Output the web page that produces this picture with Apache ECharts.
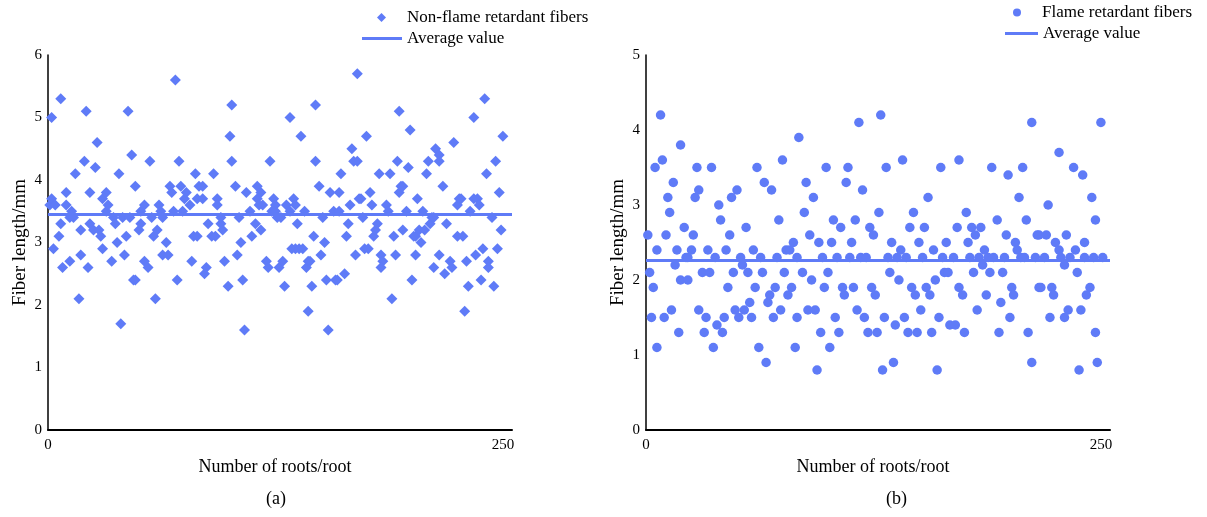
<!DOCTYPE html>
<html>
<head>
<meta charset="utf-8">
<title>Fiber length</title>
<script src="https://cdn.jsdelivr.net/npm/echarts@6/dist/echarts.min.js"></script>
<style>
  html, body { margin: 0; padding: 0; background: #fff; }
  #chart { width: 1207px; height: 517px; }
</style>
</head>
<body>
<div id="chart"></div>
<script>
// (a) non-flame retardant fibers: [root index, fiber length mm]
const nonFlame = [
  [2,5.0],[1,3.6],[2,3.7],[4,3.6],[3,2.9],[7,5.3],[10,3.8],[10,3.6],[7,3.3],[6,3.1],[8,2.6],[12,2.7],[13,3.5],[12,3.4],[14,3.4],
  [15,4.1],[17,2.1],[18,3.2],[18,2.8],[20,4.3],[21,5.1],[22,2.6],[23,3.8],[23,3.3],[25,3.2],[26,4.2],[27,4.6],[28,3.2],[29,3.1],
  [30,2.9],[30,3.7],[32,3.8],[32,3.5],[33,3.6],[35,2.7],[36,3.4],[37,3.3],[38,3.0],[39,4.1],[40,1.7],[41,3.4],[42,2.8],[43,3.1],
  [44,5.1],[45,3.4],[46,4.4],[47,2.4],[48,2.4],[48,3.9],[50,3.2],[51,3.5],[51,3.3],[53,3.6],[53,2.7],[55,2.6],[56,4.3],[57,3.4],
  [58,3.1],[59,2.1],[60,3.2],[61,3.6],[62,3.5],[63,3.4],[65,3.0],[63,2.8],[66,2.8],[67,3.9],[68,3.8],[69,3.5],[70,5.6],[71,2.4],
  [72,4.3],[73,3.9],[74,3.5],[75,3.7],[76,3.8],[78,3.6],[79,2.7],[80,3.1],[81,4.1],[82,3.7],[83,3.9],[82,3.1],
  [85,3.9],[85,3.7],[88,3.3],[87,2.6],[86,2.5],[90,3.1],[92,3.1],[91,4.1],[93,3.7],[93,3.6],[95,3.3],[96,3.2],[95,3.4],[97,2.7],
  [99,2.3],[100,4.7],[101,4.3],[101,5.2],[103,3.9],[104,2.8],[105,3.4],[106,3.0],[107,2.4],[108,1.6],[109,3.8],[111,3.5],[112,3.1],
  [114,3.3],[115,3.9],[115,3.7],[116,3.6],[117,3.8],[117,3.2],[118,3.6],[120,2.7],[121,2.6],[122,4.3],[123,3.5],[124,3.7],[125,3.6],
  [125,3.5],[126,3.4],[128,3.4],[127,2.6],[129,2.7],[130,2.3],[131,3.6],[133,3.5],[135,3.7],[136,3.6],[133,5.0],[134,2.9],[136,2.9],
  [138,2.9],[140,2.9],[137,3.3],[139,4.7],[141,3.5],[142,2.6],[143,2.7],[144,2.7],[143,1.9],[145,2.3],[146,3.1],[147,5.2],[147,4.3],
  [149,3.9],[150,2.8],[151,3.4],[152,3.0],[153,2.4],[154,1.6],[155,3.8],[158,2.4],[159,2.4],[157,3.5],[160,3.5],[161,4.1],[160,3.8],
  [163,2.5],[164,3.1],[165,3.3],[166,3.6],[167,4.5],[168,4.3],[170,4.3],[169,2.8],[170,5.7],[171,3.7],
  [175,4.7],[172,3.7],[173,3.4],[174,2.9],[176,2.9],[177,3.8],[178,3.6],[179,3.1],[180,3.2],[181,3.3],[182,4.1],[183,2.8],[184,2.7],
  [183,2.6],[186,3.6],[187,3.5],[188,4.1],[189,2.1],[190,3.1],[191,2.8],[192,4.3],[193,5.1],[193,3.8],[194,3.9],[195,3.9],[195,3.2],
  [197,3.5],[198,4.2],[199,4.8],[200,2.4],[201,3.1],[202,3.1],[202,2.8],[203,3.7],[204,3.2],[205,3.0],[206,3.5],[207,3.2],[208,4.1],
  [209,4.3],[210,3.3],[211,3.4],[212,3.4],[212,2.6],[213,4.5],[215,4.4],[215,4.3],[215,2.8],[217,3.9],[218,2.5],[219,3.3],[221,2.7],
  [222,2.6],[223,4.6],[225,3.6],[226,3.7],[227,3.7],[225,3.1],[228,3.1],[229,1.9],[230,2.7],[231,2.3],[232,3.5],[234,3.7],[236,3.7],
  [237,3.6],[234,5.0],[235,2.8],[238,2.4],[239,2.9],[240,5.3],[241,4.1],[242,2.7],[242,2.6],[244,3.4],[245,2.3],[246,4.3],[247,2.9],
  [248,3.8],[249,3.2],[250,4.7]
];

// (b) flame retardant fibers
const flame = [
  [1,2.6],[2,2.1],[3,1.5],[4,1.9],[5,3.5],[6,2.4],[6,1.1],[8,4.2],[9,3.6],[10,1.5],[11,2.6],[12,3.1],[13,2.9],[14,1.6],[15,3.3],
  [16,2.2],[17,2.4],[18,1.3],[19,3.8],[19,2.0],[21,2.7],[22,2.3],[23,2.0],[23,2.3],[25,2.4],[26,2.6],[27,3.1],[28,3.5],[29,1.6],
  [29,3.2],[31,2.1],[32,1.3],[33,1.5],[34,2.4],[35,2.1],[36,3.5],[37,1.1],[38,2.3],[39,1.4],[40,3.0],[41,2.8],[42,1.3],[43,1.5],
  [44,2.4],[45,1.9],[46,2.6],[47,3.1],[48,2.1],[49,1.6],[50,3.2],[51,1.5],[52,2.3],[53,2.2],[54,1.6],[55,2.7],[56,2.1],[57,1.7],
  [58,1.5],[59,2.4],[60,1.9],[61,3.5],[62,1.1],[63,2.3],[64,2.1],[65,3.3],[66,0.9],[67,1.7],[68,1.8],[69,3.2],[70,1.5],[71,1.9],
  [72,2.3],[73,2.8],[74,1.6],[75,3.6],[76,2.1],[77,2.4],[78,1.8],[79,2.4],[80,1.9],[81,2.5],[82,1.1],[83,2.3],[83,1.5],[84,3.9],
  [86,2.1],[88,3.3],[87,2.9],[89,1.6],[93,1.6],[90,2.6],[91,2.0],[92,3.1],[94,0.8],[95,2.5],[96,1.3],[97,2.3],[98,1.9],[99,3.5],
  [100,2.1],[101,1.1],[102,2.5],[103,2.8],[104,1.5],[105,2.3],[106,1.3],[107,2.7],[108,1.9],[109,1.8],[110,3.3],[111,3.5],[112,2.3],
  [113,2.5],[114,1.9],[115,2.8],[116,1.6],[117,4.1],[118,2.3],[119,3.2],[120,1.5],[121,2.3],[122,1.3],[123,2.7],[124,1.9],[125,2.6],
  [126,1.8],[127,1.3],[128,2.9],[129,4.2],[130,0.8],[131,1.5],[132,3.5],[133,2.3],[134,2.1],[135,2.5],[136,0.9],[137,1.4],[138,2.3],
  [139,2.0],[140,2.4],[141,3.6],[142,1.5],[143,2.3],[144,1.3],[145,2.7],[146,1.9],[147,2.9],[148,1.8],[149,1.3],[150,2.5],[151,1.6],
  [152,2.3],[153,2.7],[154,1.9],[155,3.1],[156,1.8],[157,1.3],[158,2.4],[159,2.0],[160,0.8],[161,1.5],[162,3.5],[163,2.3],[164,2.1],
  [166,2.1],[165,2.5],[167,1.4],[170,1.4],[169,2.3],[171,2.7],[172,1.9],[172,3.6],
  [174,1.8],[175,1.3],[176,2.9],[177,2.5],[178,2.3],[179,2.7],[180,2.1],[181,2.6],[182,1.6],[183,2.3],[184,2.7],[185,2.2],[186,2.4],
  [187,1.8],[188,2.3],[189,2.1],[190,3.5],[191,2.3],[193,2.8],[194,1.3],[195,1.7],[196,2.1],[197,2.3],[198,2.6],[199,3.4],[200,1.5],
  [201,1.9],[202,1.8],[203,2.5],[204,2.4],[205,3.1],[206,2.3],[208,2.3],[207,3.5],[209,2.8],[210,1.3],[212,0.9],[212,4.1],[214,2.3],
  [215,2.6],[216,2.6],[216,1.9],[217,1.9],[219,2.3],[220,2.6],[221,3.0],[222,1.5],[223,1.9],[224,1.8],[225,2.5],[227,2.4],[227,3.7],
  [228,2.3],[230,2.2],[230,1.5],[231,2.6],[232,1.6],[233,2.3],[235,3.5],[236,2.4],[237,2.1],[238,0.8],[239,1.6],[240,3.4],[241,2.3],
  [241,2.5],[242,1.8],[244,1.9],[245,3.1],[246,2.3],[247,2.8],[247,1.3],[248,0.9],[250,4.1],[251,2.3]
];

const avgNonFlame = 3.45;
const avgFlame = 2.26;
const xTicks = [0, 250];

const blue = '#5f7bf7';
const font = '"Liberation Serif", "Times New Roman", serif';

function xAxisCfg(gridIndex) {
  return {
    gridIndex: gridIndex,
    type: 'value',
    min: 0,
    max: 255,
    interval: 250,
    name: 'Number of roots/root',
    nameLocation: 'middle',
    nameGap: 26,
    nameTextStyle: { fontFamily: font, fontSize: 18, color: '#000', padding: [0, 10, 0, 0] },
    axisLine: { show: true, lineStyle: { color: '#000', width: 2 } },
    axisTick: { show: false },
    splitLine: { show: false },
    axisLabel: {
      fontFamily: font, fontSize: 15, color: '#000', margin: 8,
      formatter: v => (xTicks.indexOf(v) >= 0 ? String(v) : '')
    }
  };
}

function yAxisCfg(gridIndex, max) {
  return {
    gridIndex: gridIndex,
    type: 'value',
    min: 0,
    max: max,
    interval: 1,
    name: 'Fiber length/mm',
    nameLocation: 'middle',
    nameGap: 18,
    nameTextStyle: { fontFamily: font, fontSize: 19, color: '#000' },
    axisLine: { show: true, lineStyle: { color: '#000', width: 1.5 } },
    axisTick: { show: false },
    splitLine: { show: false },
    axisLabel: { fontFamily: font, fontSize: 15, color: '#000', margin: 6 }
  };
}

function avgSeries(idx, name, avg) {
  return {
    name: name,
    type: 'line',
    xAxisIndex: idx,
    yAxisIndex: idx,
    data: [],
    symbol: 'none',
    lineStyle: { color: blue, width: 3 },
    itemStyle: { color: blue },
    markLine: {
      silent: true,
      symbol: 'none',
      label: { show: false },
      lineStyle: { color: blue, width: 3, type: 'solid' },
      data: [{ yAxis: avg }]
    }
  };
}

// one legend per entry so each icon gets its own size
function legendItem(name, icon, left, top, w, h, textPad) {
  return {
    orient: 'vertical', left: left, top: top, padding: 0,
    itemWidth: w, itemHeight: h,
    icon: icon,
    itemStyle: { color: blue },
    textStyle: { fontFamily: font, fontSize: 17, color: '#000', lineHeight: 17, padding: [0, 0, 0, textPad] },
    formatter: n => n.trim(),
    data: [name],
    selectedMode: false
  };
}

const chart = echarts.init(document.getElementById('chart'));
chart.setOption({
  animation: false,
  backgroundColor: '#fff',
  grid: [
    { left: 48, top: 55, width: 464, bottom: 87 },
    { left: 646, top: 55, width: 464, bottom: 87 }
  ],
  legend: [
    legendItem('Non-flame retardant fibers', 'diamond', 377, 9, 9, 9, 16),
    legendItem('Average value', 'rect', 362, 30, 40, 3, 0),
    legendItem('Flame retardant fibers', 'circle', 1013, 4, 8, 8, 16),
    legendItem('Average value ', 'rect', 1005, 25, 33, 3, 0)
  ],
  xAxis: [xAxisCfg(0), xAxisCfg(1)],
  yAxis: [yAxisCfg(0, 6), yAxisCfg(1, 5)],
  graphic: [
    { type: 'text', left: 266, top: 490, style: { text: '(a)', font: '18px ' + font, fill: '#000' } },
    { type: 'text', left: 886, top: 490, style: { text: '(b)', font: '18px ' + font, fill: '#000' } }
  ],
  series: [
    {
      name: 'Non-flame retardant fibers',
      type: 'scatter',
      xAxisIndex: 0, yAxisIndex: 0,
      symbol: 'diamond', symbolSize: 11,
      itemStyle: { color: blue, opacity: 1 },
      data: nonFlame
    },
    avgSeries(0, 'Average value', avgNonFlame),
    {
      name: 'Flame retardant fibers',
      type: 'scatter',
      xAxisIndex: 1, yAxisIndex: 1,
      symbol: 'circle', symbolSize: 9.5,
      itemStyle: { color: blue, opacity: 1 },
      data: flame
    },
    avgSeries(1, 'Average value ', avgFlame)
  ]
});
</script>
</body>
</html>
